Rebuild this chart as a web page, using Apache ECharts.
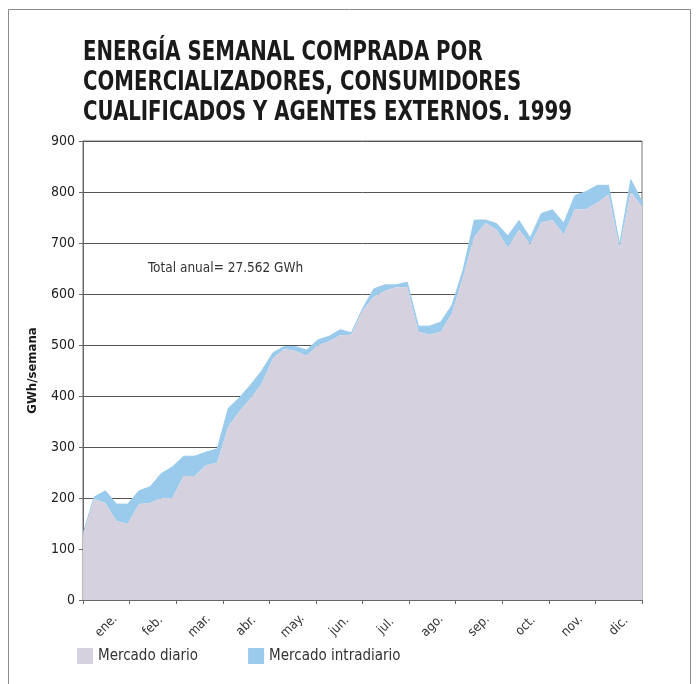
<!DOCTYPE html>
<html>
<head>
<meta charset="utf-8">
<script src="https://cdn.jsdelivr.net/npm/echarts@6/dist/echarts.min.js"></script>
<style>
  html, body { margin: 0; padding: 0; background: #fff; }
  #chart { width: 696px; height: 684px; }
</style>
</head>
<body>
<div id="chart"></div>
<script>
// Weekly energy purchased (GWh/week), 1999
const weeks = Array.from({ length: 51 }, (_, i) => 'S' + (i + 1));
const months = ['ene.', 'feb.', 'mar.', 'abr.', 'may.', 'jun.', 'jul.', 'ago.', 'sep.', 'oct.', 'nov.', 'dic.'];

// Day-ahead market
const mercadoDiario = [
  128, 198, 190, 155, 149, 188, 190, 200, 200, 243,
  243, 264, 269, 340, 370, 395, 425, 474, 492, 488,
  479, 499, 507, 519, 520, 567, 594, 606, 613, 613,
  526, 520, 526, 562, 634, 712, 739, 726, 690, 726,
  697, 740, 745, 716, 766, 766, 779, 795, 690, 800,
  771
];
// Intraday market (stacked on top of the day-ahead market)
const mercadoIntradiario = [
  2, 4, 24, 33, 39, 26, 32, 48, 61, 39,
  39, 26, 27, 36, 27, 27, 25, 11, 5, 9,
  11, 11, 10, 11, 4, 4, 16, 12, 5, 10,
  11, 17, 19, 16, 13, 33, 6, 12, 24, 18,
  13, 18, 20, 23, 27, 35, 34, 18, 7, 24,
  11
];
const yTicks = { min: 0, max: 900, step: 100 };

const TITLE = 'ENERGÍA SEMANAL COMPRADA POR\nCOMERCIALIZADORES, CONSUMIDORES\nCUALIFICADOS Y AGENTES EXTERNOS. 1999';
const FONT = '"DejaVu Sans Condensed", "Liberation Sans", sans-serif';
const chart = echarts.init(document.getElementById('chart'), null, { renderer: 'canvas' });

chart.setOption({
  animation: false,
  backgroundColor: '#ffffff',
  graphic: [
    {
      type: 'rect',
      shape: { x: 8.5, y: 9.5, width: 682, height: 700 },
      style: { fill: 'none', stroke: '#8a8a8a', lineWidth: 1 },
      silent: true
    },
    {
      // condensed heavy title
      type: 'text',
      x: 83,
      y: 38,
      scaleX: 0.845,
      style: {
        text: TITLE,
        font: 'bold 26px "DejaVu Sans Condensed", "DejaVu Sans", sans-serif',
        lineHeight: 30,
        fill: '#1a1a1a',
        textAlign: 'left',
        textVerticalAlign: 'top'
      }
    },
    {
      type: 'text',
      x: 148,
      y: 261,
      style: {
        text: 'Total anual= 27.562 GWh',
        font: '13.5px "DejaVu Sans Condensed", sans-serif',
        fill: '#333'
      }
    }
  ],
  legend: {
    left: 77,
    top: 648,
    padding: 0,
    icon: 'rect',
    itemWidth: 16,
    itemHeight: 16,
    itemGap: 50,
    textStyle: { fontFamily: FONT, fontSize: 15, color: '#333' },
    data: ['Mercado diario', 'Mercado intradiario']
  },
  grid: { left: 83, right: 54, top: 141, bottom: 84, show: true, borderColor: '#777', borderWidth: 1 },
  xAxis: [
    {
      type: 'category',
      data: weeks,
      boundaryGap: false,
      axisLine: { show: false },
      axisTick: { show: false },
      axisLabel: { show: false },
      splitLine: { show: false }
    },
    {
      type: 'category',
      data: months,
      position: 'bottom',
      boundaryGap: true,
      axisLine: { show: true, lineStyle: { color: '#666', width: 1 } },
      axisTick: { show: true, length: 4, interval: 0, lineStyle: { color: '#666' } },
      axisLabel: {
        interval: 0,
        rotate: 45,
        align: 'center',
        verticalAlign: 'middle',
        margin: 26,
        fontFamily: FONT,
        fontSize: 13,
        color: '#333'
      }
    }
  ],
  yAxis: {
    type: 'value',
    min: yTicks.min,
    max: yTicks.max,
    interval: yTicks.step,
    name: 'GWh/semana',
    nameLocation: 'middle',
    nameGap: 44,
    nameRotate: 90,
    nameTextStyle: { fontFamily: FONT, fontWeight: 'bold', fontSize: 13, color: '#1a1a1a' },
    axisLine: { show: true, lineStyle: { color: '#666' } },
    axisTick: { show: true, length: 4, lineStyle: { color: '#666' } },
    axisLabel: { fontFamily: FONT, fontSize: 14, color: '#222', margin: 8 },
    splitLine: { show: true, lineStyle: { color: '#555', width: 1 } }
  },
  series: [
    {
      name: 'Mercado diario',
      type: 'line',
      xAxisIndex: 0,
      stack: 'total',
      data: mercadoDiario,
      symbol: 'none',
      color: '#D5D1DF',
      lineStyle: { width: 0 },
      areaStyle: { color: '#D5D1DF', opacity: 1 },
      z: 3
    },
    {
      name: 'Mercado intradiario',
      type: 'line',
      xAxisIndex: 0,
      stack: 'total',
      data: mercadoIntradiario,
      symbol: 'none',
      color: '#9ACBEC',
      lineStyle: { width: 1, color: '#9ACBEC' },
      areaStyle: { color: '#9ACBEC', opacity: 1 },
      z: 2
    }
  ]
});
</script>
</body>
</html>
